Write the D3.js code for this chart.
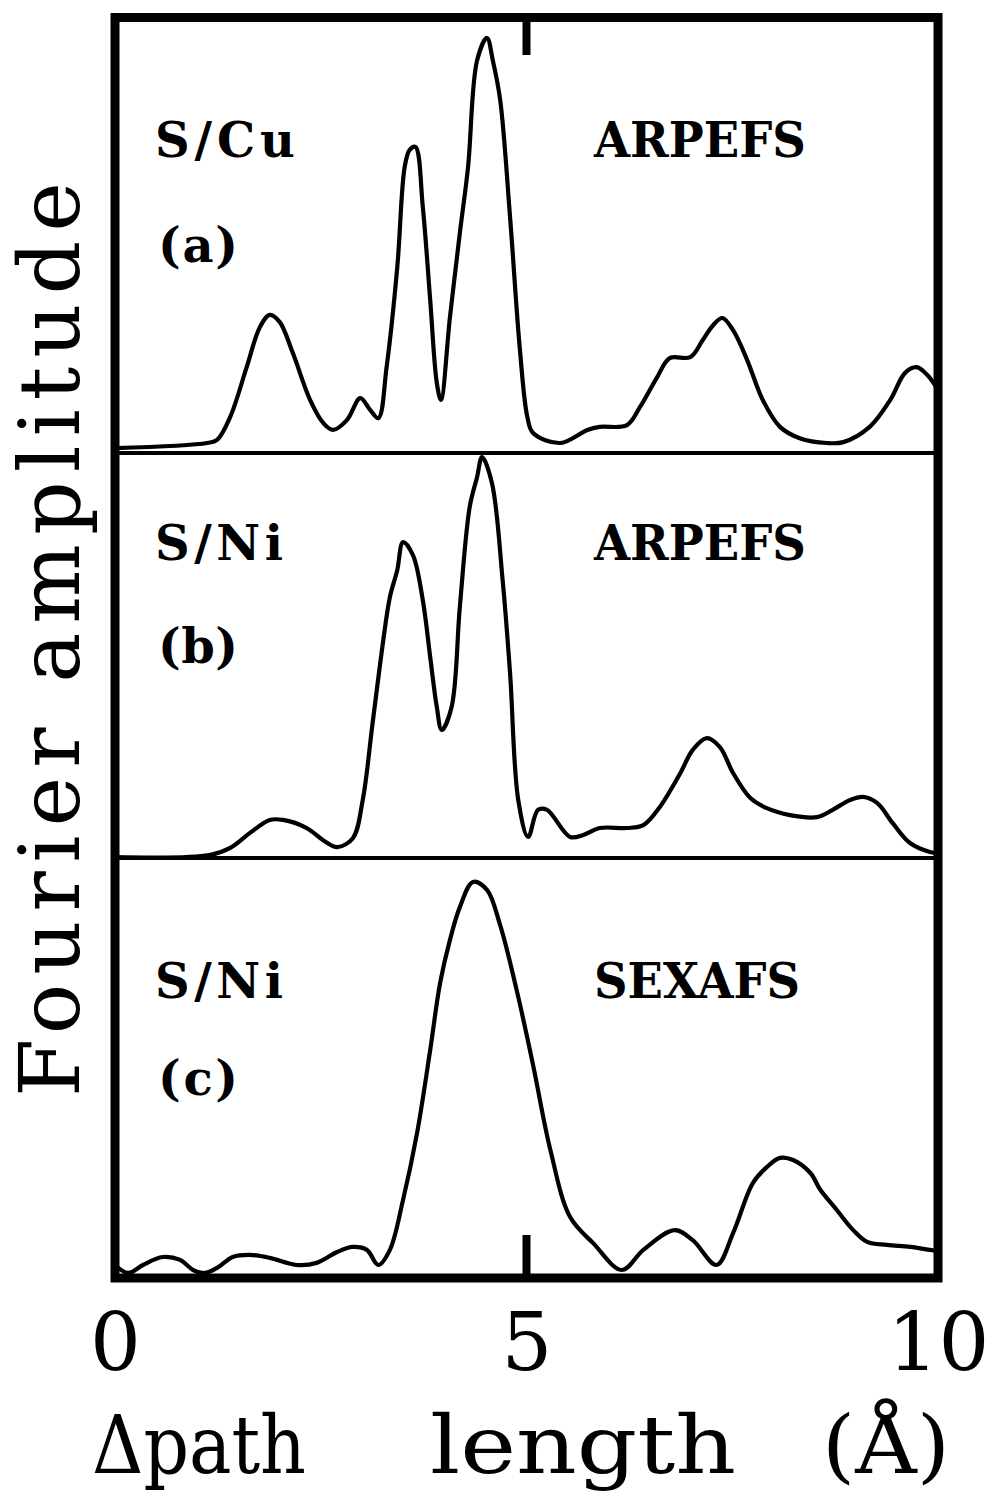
<!DOCTYPE html>
<html>
<head>
<meta charset="utf-8">
<script src="https://cdn.jsdelivr.net/npm/d3@7/dist/d3.min.js"></script>
<style>
  body { margin: 0; background: #fff; }
  svg { display: block; }
</style>
</head>
<body>
<svg id="chart" width="993" height="1496"></svg>
<script>
// path length (Å) and Fourier amplitude (arbitrary units, 0-100 per panel)
const pathA = [0.00, 1.12, 1.24, 1.40, 1.60, 1.76, 1.88, 2.00, 2.16, 2.37, 2.53, 2.65, 2.82, 2.98, 3.10, 3.20,
  3.30, 3.43, 3.52, 3.58, 3.65, 3.74, 3.83, 3.91, 3.96, 4.07, 4.19, 4.29, 4.40, 4.52, 4.59, 4.68, 4.80,
  4.92, 5.01, 5.08, 5.41, 5.74, 5.89, 6.22, 6.38, 6.59, 6.74, 6.99, 7.14, 7.27, 7.38, 7.51, 7.68, 7.87,
  8.08, 8.32, 8.65, 8.85, 9.17, 9.42, 9.60, 9.74, 9.87, 10.0];
const ampA = [1.1, 2.3, 3.0, 8.3, 19.7, 28.9, 31.7, 30.1, 23.0, 12.2, 6.9, 5.3, 7.6, 12.6, 9.9, 8.0,
  19.7, 42.7, 65.7, 69.6, 70.3, 56.5, 35.1, 16.1, 12.2, 31.2, 50.5, 65.7, 90.2, 95.3, 90.2, 81.1, 54.2,
  23.7, 8.3, 4.6, 2.3, 5.3, 6.0, 6.4, 10.6, 17.5, 21.8, 22.0, 25.9, 29.4, 31.0, 28.2, 21.4, 12.2,
  6.0, 3.4, 2.3, 2.5, 6.0, 12.2, 18.4, 19.7, 17.9, 14.5];

const pathB = [0.00, 1.15, 1.40, 1.64, 1.88, 2.04, 2.33, 2.53, 2.70, 2.89, 3.01, 3.13, 3.26, 3.34, 3.43, 3.50,
  3.62, 3.74, 3.83, 3.91, 3.97, 4.09, 4.19, 4.31, 4.40, 4.46, 4.58, 4.71, 4.80, 4.90, 5.02, 5.14, 5.25,
  5.53, 5.69, 5.89, 6.22, 6.42, 6.62, 6.87, 7.02, 7.19, 7.35, 7.51, 7.72, 7.92, 8.20, 8.53, 8.72, 8.93,
  9.09, 9.26, 9.45, 9.66, 9.90, 10.0];
const ampB = [0.2, 0.7, 2.5, 6.2, 9.4, 9.4, 7.4, 4.4, 2.7, 4.9, 14.3, 33.3, 53.8, 64.4, 71.1, 78.0,
  74.8, 63.7, 49.6, 37.3, 31.6, 37.3, 62.0, 86.7, 94.1, 99.0, 92.6, 68.6, 45.7, 14.3, 5.2, 11.9, 11.9,
  5.2, 5.7, 7.4, 7.4, 8.1, 12.6, 21.0, 26.7, 29.6, 27.4, 21.0, 14.8, 12.3, 10.6, 10.1, 11.9, 14.3,
  15.1, 13.6, 8.6, 3.7, 1.5, 1.2];

const pathC = [0.00, 0.16, 0.34, 0.58, 0.79, 0.95, 1.09, 1.24, 1.43, 1.64, 1.88, 2.21, 2.45, 2.70, 2.89, 3.06,
  3.20, 3.34, 3.50, 3.67, 3.83, 3.95, 4.07, 4.19, 4.35, 4.52, 4.68, 4.88, 5.08, 5.29, 5.53, 5.81, 6.16,
  6.42, 6.80, 7.02, 7.31, 7.51, 7.75, 7.92, 8.08, 8.24, 8.45, 8.57, 8.77, 8.97, 9.14, 9.38, 9.66, 9.90, 10.0];
const ampC = [3.1, 1.2, 3.1, 5.0, 4.3, 1.9, 1.2, 2.4, 5.0, 5.5, 4.8, 3.1, 3.6, 6.2, 7.4, 6.7,
  3.1, 6.7, 18.6, 34.5, 54.3, 70.2, 80.5, 88.3, 94.3, 92.4, 84.0, 68.6, 50.7, 30.5, 14.5, 8.3, 1.9,
  6.7, 11.4, 9.0, 3.1, 10.7, 22.6, 26.4, 28.6, 28.1, 25.0, 21.0, 16.2, 11.4, 8.6, 7.9, 7.4, 6.7, 6.4];

const sampleLabels = ["S/Cu", "S/Ni", "S/Ni"];
const panelTags = ["(a)", "(b)", "(c)"];
const methodLabels = ["ARPEFS", "ARPEFS", "SEXAFS"];
const xTicks = [0, 5, 10];
const xTitle = ["\u0394path", "length", "(\u00c5)"];
const yTitle = "Fourier amplitude";

// layout
const frame = {left: 115, right: 938, top: 17.5, bottom: 1278};
const panelBottoms = [453, 858, 1278];
const panelTops = [17.5, 453, 858];
const labelBase = [{s: 157, t: 262}, {s: 560, t: 663}, {s: 998, t: 1095}];
const sampleLen = [140, 128, 128];
const methodLen = [212, 212, 206];

const series = [
  pathA.map((d, i) => ({x: d, y: ampA[i]})),
  pathB.map((d, i) => ({x: d, y: ampB[i]})),
  pathC.map((d, i) => ({x: d, y: ampC[i]}))
];

const svg = d3.select("#chart");
const serif = "'DejaVu Serif', 'Liberation Serif', serif";

const x = d3.scaleLinear().domain([0, 10]).range([frame.left, frame.right]);

series.forEach((data, i) => {
  const y = d3.scaleLinear().domain([0, 100]).range([panelBottoms[i], panelTops[i]]);
  const line = d3.line()
    .x(d => x(d.x))
    .y(d => y(d.y))
    .curve(d3.curveCatmullRom.alpha(0.5));

  svg.append("path")
    .datum(data)
    .attr("d", line)
    .attr("fill", "none")
    .attr("stroke", "#000")
    .attr("stroke-width", 4.2)
    .attr("stroke-linejoin", "round");

  const g = svg.append("g")
    .attr("font-family", serif)
    .attr("font-weight", "bold")
    .attr("font-size", 48)
    .attr("fill", "#000");
  g.append("text").attr("x", 155).attr("y", labelBase[i].s)
    .attr("textLength", sampleLen[i]).attr("lengthAdjust", "spacing")
    .text(sampleLabels[i]);
  g.append("text").attr("x", 158).attr("y", labelBase[i].t)
    .attr("textLength", 80).attr("lengthAdjust", "spacing")
    .text(panelTags[i]);
  g.append("text").attr("x", 594).attr("y", labelBase[i].s)
    .attr("textLength", methodLen[i]).attr("lengthAdjust", "spacingAndGlyphs")
    .text(methodLabels[i]);
});

// separators between panels
svg.selectAll(".sep")
  .data(panelBottoms.slice(0, 2))
  .enter().append("line")
  .attr("class", "sep")
  .attr("x1", frame.left).attr("x2", frame.right)
  .attr("y1", d => d).attr("y2", d => d)
  .attr("stroke", "#000")
  .attr("stroke-width", 4);

// frame
svg.append("rect")
  .attr("x", frame.left).attr("y", frame.top)
  .attr("width", frame.right - frame.left)
  .attr("height", frame.bottom - frame.top)
  .attr("fill", "none")
  .attr("stroke", "#000")
  .attr("stroke-width", 9);

// tick marks at 5 A (top and bottom only)
svg.append("line")
  .attr("x1", x(5)).attr("x2", x(5))
  .attr("y1", frame.top).attr("y2", 55)
  .attr("stroke", "#000").attr("stroke-width", 8);
svg.append("line")
  .attr("x1", x(5)).attr("x2", x(5))
  .attr("y1", 1235).attr("y2", frame.bottom)
  .attr("stroke", "#000").attr("stroke-width", 8);

// x axis labels
svg.append("g")
  .attr("transform", `translate(0,${frame.bottom})`)
  .call(d3.axisBottom(x).tickValues(xTicks).tickSize(0).tickFormat(d3.format("d")))
  .call(g => g.select(".domain").remove())
  .call(g => g.selectAll("text")
    .attr("y", 92).attr("dy", 0)
    .attr("font-family", serif)
    .attr("font-size", 80)
    .attr("fill", "#000"));

// x title, three words
const xt = svg.append("g")
  .attr("font-family", serif)
  .attr("font-size", 80)
  .attr("fill", "#000");
const xTitleX = [92, 430, 822];
const xTitleLen = [214, 306, 128];
xTitle.forEach((w, i) => {
  xt.append("text")
    .attr("x", xTitleX[i]).attr("y", 1473)
    .attr("textLength", xTitleLen[i])
    .attr("lengthAdjust", "spacingAndGlyphs")
    .text(w);
});

// y title
svg.append("text")
  .attr("transform", "translate(79,1097) rotate(-90)")
  .attr("font-family", serif)
  .attr("font-size", 84)
  .attr("fill", "#000")
  .attr("textLength", 915)
  .attr("lengthAdjust", "spacing")
  .text(yTitle);
</script>
</body>
</html>
